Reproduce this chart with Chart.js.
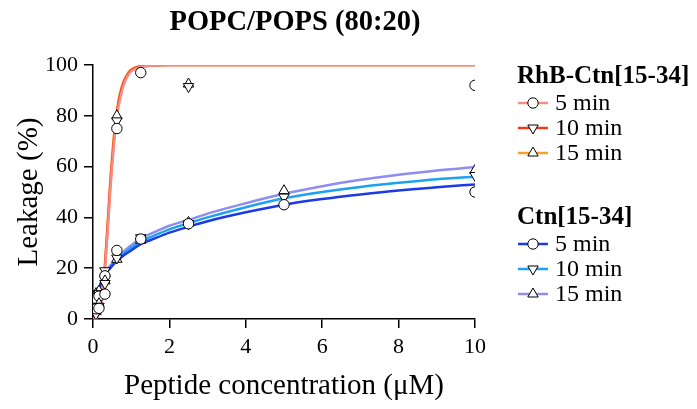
<!DOCTYPE html>
<html>
<head>
<meta charset="utf-8">
<script src="https://cdn.jsdelivr.net/npm/chart.js@4.4.1/dist/chart.umd.min.js"></script>
<style>
    body { margin: 0; background: #fff; }
</style>
</head>
<body>
<canvas id="myChart" width="697" height="409"></canvas>
<script>
// measured points (concentration in uM, leakage in %)
let conc = [0.039, 0.078, 0.156, 0.3125, 0.625, 1.25, 2.5, 5, 10];

let rhb5 = [null, 4, 4.2, 9.8, 75, 97, null, null, 92];
let rhb10 = [null, 2, 5, 14, 78, null, 91.5, null, null];
let rhb15 = [null, 3, 6, 15, 80, null, 92.5, null, null];

let ctn5 = [6, 8, 9, 17, 27, 31.5, 37.5, 45, 50];
let ctn10 = [8, 9, 10, 19, 24, 32, 37.5, 48, 56.5];
let ctn15 = [9, 10, 11, 18, 23.5, 31, 38, 50.5, 58.5];

// fitted curves
let rhbFitX = [0, 0.1, 0.15, 0.2, 0.25, 0.3, 0.35, 0.4, 0.45, 0.5, 0.55, 0.6, 0.65, 0.7, 0.8, 0.9, 1.0, 1.2, 1.5, 2, 3, 10];
let rhbFit5 = [0, 0.5, 2, 5, 10, 17, 27, 38, 50, 60, 69, 76, 82, 86, 92, 95.5, 97.5, 99, 99.7, 100, 100, 100];
let rhbFit10 = [0, 0.5, 2, 5.5, 11, 18, 29, 40, 52, 62, 71, 78, 83.5, 87.5, 93, 96, 98, 99.3, 99.8, 100, 100, 100];
let rhbFit15 = [0, 0.6, 2.2, 6, 12, 19, 30, 42, 54, 64, 72.5, 79, 84.5, 88.5, 93.5, 96.5, 98.2, 99.4, 99.8, 100, 100, 100];

let ctnFitX = [0, 0.05, 0.1, 0.2, 0.3, 0.45, 0.6, 0.8, 1.0, 1.25, 1.5, 2, 2.5, 3, 4, 5, 6, 7, 8, 9, 10];
let ctnFit5 = [0, 5, 8.5, 13.5, 17, 20, 22.5, 25, 27, 29.5, 31, 34, 36.3, 38.5, 42, 45, 47.2, 49, 50.6, 51.9, 53];
let ctnFit10 = [0, 5, 8.5, 13.8, 17.3, 20.5, 23, 25.8, 28, 30.5, 32.2, 35.3, 37.7, 40, 44, 47.5, 50, 52, 53.6, 55, 56];
let ctnFit15 = [0, 5, 8.5, 14, 17.5, 21, 23.6, 26.5, 29, 31.8, 33.5, 36.7, 39, 41.5, 45.6, 49.3, 52.3, 54.8, 56.8, 58.5, 59.8];

let timeLabels = ['5 min', '10 min', '15 min'];
let xTicks = [0, 2, 4, 6, 8, 10];
let yTicks = [0, 20, 40, 60, 80, 100];

const FONT = 'Liberation Serif';
const rhbColors = ['#f58d86', '#ee3b1c', '#f7a12a'];
const ctnColors = ['#1c3be6', '#1da1f2', '#8d8df2'];
const markers = ['circle', 'down', 'up'];

function toPoints(xs, ys) {
    let pts = [];
    for (let i = 0; i < xs.length; i++) {
        if (ys[i] !== null) pts.push({ x: xs[i], y: ys[i] });
    }
    return pts;
}

function fitSet(xs, ys, color, order) {
    return {
        data: toPoints(xs, ys),
        showLine: true,
        borderColor: color,
        borderWidth: 2.5,
        pointRadius: 0,
        cubicInterpolationMode: 'monotone',
        order: order
    };
}

function pointSet(ys, marker) {
    return {
        data: toPoints(conc, ys),
        showLine: false,
        pointStyle: marker === 'circle' ? 'circle' : 'triangle',
        rotation: marker === 'down' ? 180 : 0,
        pointRadius: marker === 'circle' ? 5.2 : 6,
        pointBackgroundColor: '#fff',
        pointBorderColor: '#000',
        pointBorderWidth: 1,
        order: 1
    };
}

let datasets = [
    pointSet(rhb5, 'circle'), pointSet(rhb10, 'down'), pointSet(rhb15, 'up'),
    pointSet(ctn5, 'circle'), pointSet(ctn10, 'down'), pointSet(ctn15, 'up'),
    fitSet(rhbFitX, rhbFit5, rhbColors[0], 2),
    fitSet(rhbFitX, rhbFit10, rhbColors[1], 3),
    fitSet(rhbFitX, rhbFit15, rhbColors[2], 4),
    fitSet(ctnFitX, ctnFit5, ctnColors[0], 5),
    fitSet(ctnFitX, ctnFit10, ctnColors[1], 6),
    fitSet(ctnFitX, ctnFit15, ctnColors[2], 7)
];

function drawMarker(ctx, kind, x, y) {
    ctx.save();
    ctx.fillStyle = '#fff';
    ctx.strokeStyle = '#000';
    ctx.lineWidth = 1;
    ctx.beginPath();
    if (kind === 'circle') {
        ctx.arc(x, y, 5.2, 0, Math.PI * 2);
    } else {
        let r = 6;
        let s = kind === 'down' ? -1 : 1;
        ctx.moveTo(x, y - s * r);
        ctx.lineTo(x + r * 0.866, y + s * r * 0.5);
        ctx.lineTo(x - r * 0.866, y + s * r * 0.5);
        ctx.closePath();
    }
    ctx.fill();
    ctx.stroke();
    ctx.restore();
}

// title and the two-group legend
const annotate = {
    id: 'annotate',
    afterDraw(chart) {
        const ctx = chart.ctx;
        ctx.save();
        ctx.fillStyle = '#000';
        ctx.textBaseline = 'alphabetic';
        ctx.textAlign = 'center';
        ctx.font = 'bold 28.5px ' + FONT;
        ctx.fillText('POPC/POPS (80:20)', 295, 30);

        const groups = [
            { name: 'RhB-Ctn[15-34]', colors: rhbColors, top: 77 },
            { name: 'Ctn[15-34]', colors: ctnColors, top: 218 }
        ];
        ctx.textAlign = 'left';
        ctx.textBaseline = 'middle';
        groups.forEach(g => {
            ctx.font = 'bold 25px ' + FONT;
            ctx.fillStyle = '#000';
            ctx.fillText(g.name, 517, g.top);
            for (let k = 0; k < 3; k++) {
                let y = g.top + 26 + k * 25;
                ctx.strokeStyle = g.colors[k];
                ctx.lineWidth = 2.5;
                ctx.beginPath();
                ctx.moveTo(518, y);
                ctx.lineTo(548, y);
                ctx.stroke();
                drawMarker(ctx, markers[k], 533, y);
                ctx.font = '24px ' + FONT;
                ctx.fillStyle = '#000';
                ctx.fillText(timeLabels[k], 555, y + 1);
            }
        });
        ctx.restore();
    }
};

const ctx = document.getElementById('myChart');

new Chart(ctx, {
    type: 'scatter',
    data: { datasets: datasets },
    plugins: [annotate],
    options: {
        responsive: false,
        animation: false,
        layout: { padding: { top: 65, right: 222, left: 0, bottom: 0 } },
        plugins: {
            legend: { display: false },
            tooltip: { enabled: false }
        },
        scales: {
            x: {
                type: 'linear',
                min: 0,
                max: 10,
                afterFit: s => { s.height = 90; },
                afterBuildTicks: s => { s.ticks = xTicks.map(v => ({ value: v })); },
                border: { display: true, color: '#000', width: 1.5 },
                grid: { drawOnChartArea: false, drawTicks: true, tickLength: 9, color: '#000', lineWidth: 1.5 },
                ticks: { color: '#000', padding: 6, font: { family: FONT, size: 22 } },
                title: {
                    display: true,
                    text: 'Peptide concentration (μM)',
                    color: '#000',
                    padding: { bottom: 5 },
                    font: { family: FONT, size: 29 }
                }
            },
            y: {
                type: 'linear',
                min: 0,
                max: 100,
                afterFit: s => { s.width = 93; },
                afterBuildTicks: s => { s.ticks = yTicks.map(v => ({ value: v })); },
                border: { display: true, color: '#000', width: 1.5 },
                grid: { drawOnChartArea: false, drawTicks: true, tickLength: 9, color: '#000', lineWidth: 1.5 },
                ticks: { color: '#000', padding: 6, font: { family: FONT, size: 22 } },
                title: {
                    display: true,
                    text: 'Leakage (%)',
                    color: '#000',
                    padding: { top: 12 },
                    font: { family: FONT, size: 29 }
                }
            }
        }
    }
});
</script>
</body>
</html>
